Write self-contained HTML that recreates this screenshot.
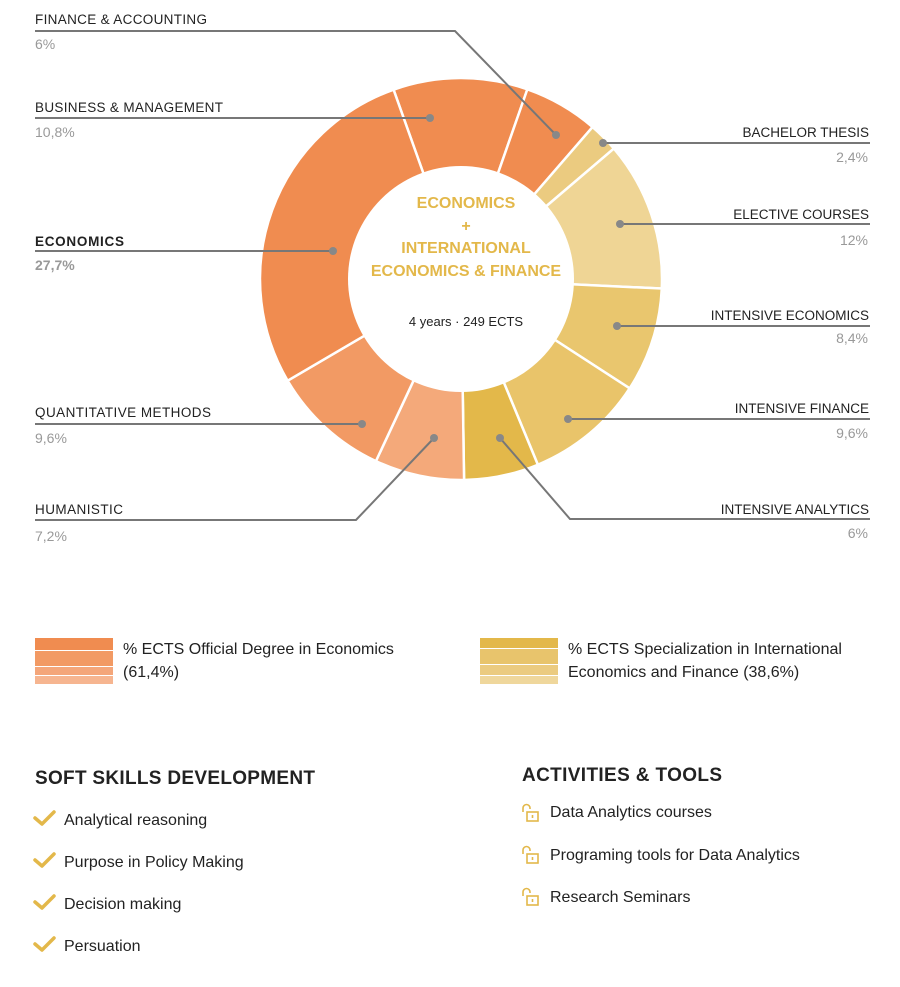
<!DOCTYPE html>
<html><head><meta charset="utf-8"><style>
html,body{margin:0;padding:0;background:#fff;}
body{width:900px;height:987px;position:relative;overflow:hidden;font-family:"Liberation Sans",sans-serif;}
svg{position:absolute;left:0;top:0;}
</style></head><body>
<svg id="s" width="900" height="987" viewBox="0 0 900 987" xmlns="http://www.w3.org/2000/svg" font-family="Liberation Sans, sans-serif">
<g id="donut"></g>
<circle cx="461" cy="279" r="113" fill="#fff"/>
<g font-weight="bold" fill="#E3B84A" font-size="16" text-anchor="middle">
<text x="466" y="208">ECONOMICS</text>
<text x="466" y="231">+</text>
<text x="466" y="253">INTERNATIONAL</text>
<text x="466" y="276">ECONOMICS &amp; FINANCE</text>
</g>
<text x="466" y="326" text-anchor="middle" font-size="13" fill="#222">4 years · 249 ECTS</text>

<g stroke="#777" stroke-width="2" fill="none">
<polyline points="35,31 455,31 556,135"/>
<line x1="35" y1="118" x2="430" y2="118"/>
<line x1="35" y1="251" x2="333" y2="251"/>
<line x1="35" y1="424" x2="362" y2="424"/>
<polyline points="35,520 356,520 434,438"/>
<line x1="870" y1="143" x2="603" y2="143"/>
<line x1="870" y1="224" x2="620" y2="224"/>
<line x1="870" y1="326" x2="617" y2="326"/>
<line x1="870" y1="419" x2="568" y2="419"/>
<polyline points="870,519 570,519 500,438"/>
</g>
<g fill="#888">
<circle cx="556" cy="135" r="4"/><circle cx="430" cy="118" r="4"/><circle cx="333" cy="251" r="4"/>
<circle cx="362" cy="424" r="4"/><circle cx="434" cy="438" r="4"/><circle cx="603" cy="143" r="4"/>
<circle cx="620" cy="224" r="4"/><circle cx="617" cy="326" r="4"/><circle cx="568" cy="419" r="4"/><circle cx="500" cy="438" r="4"/>
</g>
<g font-size="13.5" fill="#222">
<text x="35" y="24" textLength="172">FINANCE &amp; ACCOUNTING</text>
<text x="35" y="112" textLength="188">BUSINESS &amp; MANAGEMENT</text>
<text x="35" y="246" font-weight="bold" textLength="89">ECONOMICS</text>
<text x="35" y="417" textLength="176">QUANTITATIVE METHODS</text>
<text x="35" y="514" textLength="88">HUMANISTIC</text>
<g text-anchor="end">
<text x="869" y="137">BACHELOR THESIS</text>
<text x="869" y="219">ELECTIVE COURSES</text>
<text x="869" y="320">INTENSIVE ECONOMICS</text>
<text x="869" y="413">INTENSIVE FINANCE</text>
<text x="869" y="514">INTENSIVE ANALYTICS</text>
</g>
</g>
<g font-size="14" fill="#999">
<text x="35" y="49">6%</text>
<text x="35" y="137">10,8%</text>
<text x="35" y="270" font-weight="bold">27,7%</text>
<text x="35" y="443">9,6%</text>
<text x="35" y="541">7,2%</text>
<g text-anchor="end">
<text x="868" y="162">2,4%</text>
<text x="868" y="245">12%</text>
<text x="868" y="343">8,4%</text>
<text x="868" y="438">9,6%</text>
<text x="868" y="538">6%</text>
</g>
</g>

<rect x="35" y="638" width="78" height="12" fill="#F08C50"/>
<rect x="35" y="651" width="78" height="15" fill="#F29A64"/>
<rect x="35" y="667" width="78" height="8" fill="#F4A67A"/>
<rect x="35" y="676" width="78" height="8" fill="#F6B590"/>
<text x="123" y="654" font-size="16" fill="#222">% ECTS Official Degree in Economics</text>
<text x="123" y="677" font-size="16" fill="#222">(61,4%)</text>
<rect x="480" y="638" width="78" height="10" fill="#E3B84A"/>
<rect x="480" y="649" width="78" height="15" fill="#E8C46C"/>
<rect x="480" y="665" width="78" height="10" fill="#EBCB80"/>
<rect x="480" y="676" width="78" height="8" fill="#EFD79C"/>
<text x="568" y="654" font-size="16" fill="#222">% ECTS Specialization in International</text>
<text x="568" y="677" font-size="16" fill="#222">Economics and Finance (38,6%)</text>

<text x="35" y="784" font-size="19" font-weight="bold" fill="#222" textLength="280">SOFT SKILLS DEVELOPMENT</text>
<g fill="none" stroke="#E3B84A" stroke-width="3.5" stroke-linecap="round" stroke-linejoin="round">
<polyline points="35,818 42,824 54,812"/>
<polyline points="35,860 42,866 54,854"/>
<polyline points="35,902 42,908 54,896"/>
<polyline points="35,944 42,950 54,938"/>
</g>
<g font-size="16" fill="#222">
<text x="64" y="825">Analytical reasoning</text>
<text x="64" y="867">Purpose in Policy Making</text>
<text x="64" y="909">Decision making</text>
<text x="64" y="951">Persuation</text>
</g>

<text x="522" y="781" font-size="19" font-weight="bold" fill="#222" textLength="200">ACTIVITIES &amp; TOOLS</text>
<g fill="none" stroke="#E3B84A" stroke-width="1.6">
<g transform="translate(522,804)"><path d="M1,8 V4 A3.5,3.5 0 0 1 8,4 V5"/><rect x="5" y="8" width="11" height="9"/><line x1="10.5" y1="11" x2="10.5" y2="14"/></g>
<g transform="translate(522,846)"><path d="M1,8 V4 A3.5,3.5 0 0 1 8,4 V5"/><rect x="5" y="8" width="11" height="9"/><line x1="10.5" y1="11" x2="10.5" y2="14"/></g>
<g transform="translate(522,888)"><path d="M1,8 V4 A3.5,3.5 0 0 1 8,4 V5"/><rect x="5" y="8" width="11" height="9"/><line x1="10.5" y1="11" x2="10.5" y2="14"/></g>
</g>
<g font-size="16" fill="#222">
<text x="550" y="817">Data Analytics courses</text>
<text x="550" y="860">Programing tools for Data Analytics</text>
<text x="550" y="902">Research Seminars</text>
</g>
</svg>
<script>
(function(){
var cx=461,cy=279,R=201,r=113;
var segs=[[10.8,"#F08C50"],[6,"#F08C50"],[2.4,"#EBCB80"],[12,"#EFD595"],[8.4,"#E9C66E"],[9.6,"#E9C46A"],[6,"#E3B84A"],[7.2,"#F4A97A"],[9.6,"#F29A64"],[28,"#F08C50"]];
var a=-19.6,g=document.getElementById("donut"),ns="http://www.w3.org/2000/svg";
function p(rad,deg){var t=deg*Math.PI/180;return [cx+rad*Math.sin(t),cy-rad*Math.cos(t)];}
segs.forEach(function(s){
 var sw=s[0]*3.6,b=a+sw,l=sw>180?1:0;
 var p1=p(R,a),p2=p(R,b),p3=p(r-5,b),p4=p(r-5,a);
 var d="M"+p1+" A"+R+","+R+" 0 "+l+" 1 "+p2+" L"+p3+" A"+(r-5)+","+(r-5)+" 0 "+l+" 0 "+p4+" Z";
 var e=document.createElementNS(ns,"path");e.setAttribute("d",d);e.setAttribute("fill",s[1]);
 e.setAttribute("stroke","#fff");e.setAttribute("stroke-width","2.5");g.appendChild(e);a=b;});
})();
</script>
</body></html>
